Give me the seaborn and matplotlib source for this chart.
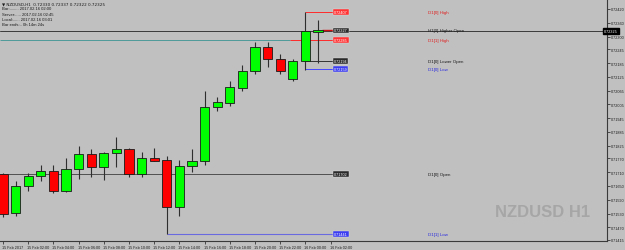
import matplotlib
matplotlib.use("Agg")
import matplotlib.pyplot as plt
import matplotlib.transforms as mtransforms
import seaborn as sns
import numpy as np
import pandas as pd

# ---------------- data ----------------
opens  = [0.71702, 0.71533, 0.71650, 0.71694, 0.71715, 0.71628, 0.71724, 0.71789,
          0.71733, 0.71794, 0.71811, 0.71702, 0.71772, 0.71763, 0.71559, 0.71737,
          0.71759, 0.71994, 0.72011, 0.72076, 0.72150, 0.72255, 0.72203, 0.72116,
          0.72194, 0.72322]
highs  = [0.71707, 0.71672, 0.71707, 0.71741, 0.71741, 0.71772, 0.71824, 0.71811,
          0.71798, 0.71863, 0.71815, 0.71798, 0.71815, 0.71781, 0.71763, 0.71811,
          0.72063, 0.72037, 0.72107, 0.72176, 0.72276, 0.72276, 0.72224, 0.72203,
          0.72407, 0.72372]
lows   = [0.71515, 0.71520, 0.71628, 0.71672, 0.71620, 0.71624, 0.71681, 0.71689,
          0.71676, 0.71733, 0.71689, 0.71689, 0.71759, 0.71441, 0.71520, 0.71711,
          0.71741, 0.71976, 0.71998, 0.72063, 0.72137, 0.72168, 0.72137, 0.72107,
          0.72155, 0.72185]
closes = [0.71528, 0.71650, 0.71694, 0.71715, 0.71628, 0.71724, 0.71789, 0.71733,
          0.71794, 0.71811, 0.71702, 0.71772, 0.71759, 0.71559, 0.71737, 0.71759,
          0.71994, 0.72015, 0.72081, 0.72150, 0.72255, 0.72203, 0.72150, 0.72194,
          0.72324, 0.72327]

x_tick_labels = ["15 Feb 2017", "15 Feb 02:00", "15 Feb 04:00", "15 Feb 06:00",
                 "15 Feb 08:00", "15 Feb 10:00", "15 Feb 12:00", "15 Feb 14:00",
                 "15 Feb 16:00", "15 Feb 18:00", "15 Feb 20:00", "15 Feb 22:00",
                 "16 Feb 00:00", "16 Feb 02:00"]
y_tick_labels = ["0.72420", "0.72360", "0.72300", "0.72245", "0.72185", "0.72125",
                 "0.72065", "0.72005", "0.71945", "0.71885", "0.71825", "0.71770",
                 "0.71710", "0.71650", "0.71590", "0.71530", "0.71470", "0.71415"]

level_names  = ["D1[0] High", "H1[0] Higher Open", "D1[1] High", "D1[0] Lower Open",
                "D1[0] Low", "D1[0] Open", "D1[1] Low"]
level_prices = [0.72407, 0.72327, 0.72285, 0.72194, 0.72159, 0.71702, 0.71441]
level_kinds  = ["red", "black", "red", "black", "blue", "black", "blue"]
level_start  = [24, None, None, 24, 24, None, 13]   # candle index where line starts

current_price = 0.72325
symbol_title = "NZDUSD,H1  0.72330 0.72337 0.72322 0.72325"
info_lines = ["Bar:........ 2017.02.16 02:00",
              "Server:..... 2017.02.16 02:45",
              "Local:...... 2017.02.16 03:01",
              "Bar ends:.. 0h 14m 24s"]
watermark = "NZDUSD H1"

# ---------------- style ----------------
BG = "#c0c0c0"
sns.set_theme(style="white", rc={"axes.facecolor": BG, "figure.facecolor": BG})
plt.rcParams["font.family"] = ["Liberation Sans", "DejaVu Sans"]
SMALL = 2.7

W, H = 625, 251
fig = plt.figure(figsize=(W / 100, H / 100), dpi=100, facecolor=BG)
ax_right_px, ax_bottom_px, ax_top_px = 607, 242, 1
ax = fig.add_axes([0, 1 - ax_bottom_px / H, ax_right_px / W, (ax_bottom_px - ax_top_px) / H])
ax.set_facecolor(BG)

# pixel <-> data mapping for the frame
X0, DX = 3.0, 12.6
P0, PY0 = 0.72420, 10.0
K = (0.72420 - 0.71415) / 231.0
def xpx(px):
    return (px - X0) / DX
def ppx(py):
    return P0 - (py - PY0) * K

ax.set_xlim(xpx(0), xpx(ax_right_px))
ax.set_ylim(ppx(ax_bottom_px), ppx(ax_top_px))

df = pd.DataFrame({"open": opens, "high": highs, "low": lows, "close": closes})
df["idx"] = np.arange(len(df))
df["bull"] = df["close"] >= df["open"]

# horizontal level lines (drawn first, under candles)
line_cols = {"red": "#ff2a2a", "black": "#333333", "blue": "#4646ff"}
box_cols = {"red": "#ff3333", "black": "#2a2a2a", "blue": "#3c3cf0"}
txt_cols = {"red": "#e02020", "black": "#1a1a1a", "blue": "#2a2ae0"}
x_box = xpx(334)
x_lab = xpx(428)
ax.axhline(current_price, color="#3a3a3a", lw=0.7, zorder=1)
for name, price, kind, start in zip(level_names, level_prices, level_kinds, level_start):
    if name == "D1[1] High":
        ax.hlines(price, xpx(0), xpx(290), color="#4e9a9a", lw=0.7, zorder=1)
        ax.hlines(price, xpx(290), x_box, color=line_cols[kind], lw=0.7, zorder=1)
    elif name == "D1[0] Open":
        ax.hlines(price, xpx(0), x_box, color="#505050", lw=0.7, zorder=1)
    elif name == "D1[1] Low":
        ax.hlines(price, start, x_box, color="#6a6ae0", lw=0.8, zorder=1)
    elif start is not None:
        ax.hlines(price, start, x_box, color=line_cols[kind], lw=0.7, zorder=1)
    ax.text(x_box, price, f"{price:.5f}", fontsize=2.7, color="white", ha="left", va="center",
            zorder=6, bbox=dict(facecolor=box_cols[kind], edgecolor="#e0e0e0", lw=0.3, pad=0.6))
    ax.text(x_lab, price, name, fontsize=3.2, color=txt_cols[kind], ha="left", va="center",
            zorder=6)

ax.hlines(current_price + 0.00003, xpx(322), x_box, color="#d01010", lw=1.0, zorder=2)

# candles: wicks then bodies
ax.vlines(df["idx"], df["low"], df["high"], color="#2e2e2e", lw=0.8, zorder=3)
body_bottom = df[["open", "close"]].min(axis=1)
body_h = (df["close"] - df["open"]).abs().clip(lower=0.000012)
colors = np.where(df["bull"], "#00ff00", "#ff0000")
ax.bar(df["idx"], body_h, bottom=body_bottom, width=0.72, color=colors,
       edgecolor="#1a1a1a", linewidth=0.6, zorder=4)

# axes styling
for s in ["left", "top"]:
    ax.spines[s].set_visible(False)
for s in ["bottom", "right"]:
    ax.spines[s].set_visible(True)
    ax.spines[s].set_color("#3a3a3a")
    ax.spines[s].set_linewidth(0.8)

ax.yaxis.tick_right()
ax.set_yticks([float(v) for v in y_tick_labels])
ax.set_yticklabels(y_tick_labels)
ax.tick_params(axis="y", right=True, length=2.0, width=0.5, pad=0.8, labelsize=SMALL,
               colors="#1a1a1a")
ax.set_xticks(np.arange(0, 2 * len(x_tick_labels), 2))
ax.set_xticklabels(x_tick_labels, ha="left")
ax.tick_params(axis="x", bottom=True, length=2.0, width=0.5, pad=1.2, labelsize=SMALL,
               colors="#1a1a1a")
for lab in ax.get_xticklabels():
    lab.set_transform(lab.get_transform() + mtransforms.ScaledTranslation(-1 / 100, 0, fig.dpi_scale_trans))
ax.set_xlabel("")
ax.set_ylabel("")
ax.grid(False)

# current price tag on the right axis
trans = mtransforms.blended_transform_factory(ax.transAxes, ax.transData)
ax.text(1.0 - 3 / ax_right_px, current_price, f"{current_price:.5f}", transform=trans,
        fontsize=SMALL, color="white", ha="left", va="center", zorder=10, clip_on=False,
        bbox=dict(facecolor="black", edgecolor="black", pad=0.6))

# info text top-left
ax.text(2 / ax_right_px, 1 - 3 / 241, "\u25bc " + symbol_title, transform=ax.transAxes,
        fontsize=3.0, color="#1a1a1a", ha="left", va="center", zorder=10,
        family=["DejaVu Sans"])
for i, line in enumerate(info_lines):
    ax.text(2 / ax_right_px, 1 - (8.5 + 5.2 * i) / 241, line, transform=ax.transAxes,
            fontsize=3.0, color="#1a1a1a", ha="left", va="center", zorder=10)

# watermark
ax.text(590 / ax_right_px, 1 - 212 / 241, watermark, transform=ax.transAxes,
        fontsize=12, fontweight="bold", family="Liberation Sans", color="#a6a6a6",
        ha="right", va="center", zorder=0)

fig.savefig("out.png", dpi=100, facecolor=BG)
